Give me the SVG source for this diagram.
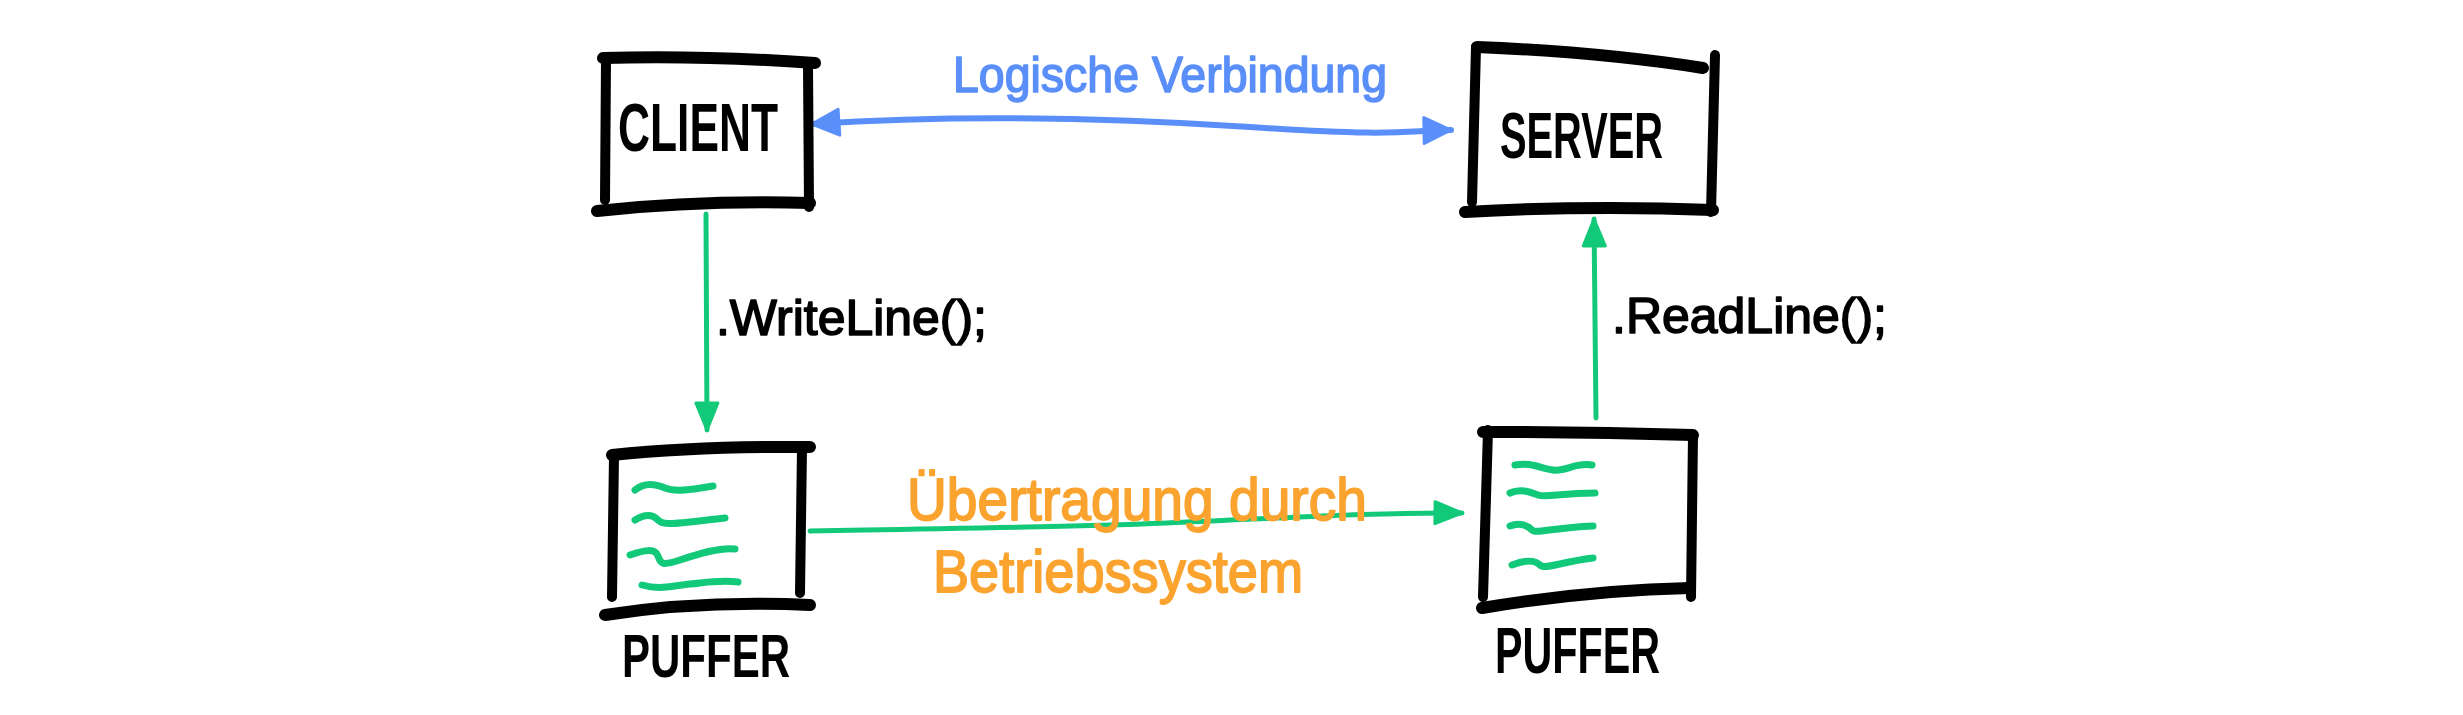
<svg xmlns="http://www.w3.org/2000/svg" width="2463" height="715" viewBox="0 0 2463 715">
<style>
.edge{fill:none;stroke:#000;stroke-linecap:round;stroke-linejoin:round}
.h{stroke-width:12}
.v{stroke-width:10}
.sq{fill:none;stroke:#12c979;stroke-width:7;stroke-linecap:round;stroke-linejoin:round}
.g{fill:none;stroke:#12c979;stroke-width:5;stroke-linecap:round}
.b{fill:none;stroke:#5a8ffa;stroke-width:6;stroke-linecap:round}
.lbl{font-family:"Liberation Sans",Arial,sans-serif;fill:#000;stroke:#000;stroke-width:1.6;stroke-linejoin:round}
.box{font-family:"Liberation Sans",Arial,sans-serif;font-weight:bold;fill:#000}
.blue{font-family:"Liberation Sans",Arial,sans-serif;fill:#5a8ffa;stroke:#5a8ffa;stroke-width:1.6;stroke-linejoin:round}
.orange{font-family:"Liberation Sans",Arial,sans-serif;fill:#fba32f;stroke:#fba32f;stroke-width:1.8;stroke-linejoin:round}
</style>
<defs>
<marker id="ahG" viewBox="0 0 30 26" refX="29" refY="13" markerWidth="30" markerHeight="26" markerUnits="userSpaceOnUse" orient="auto">
<path d="M2,2 L29,13 L2,24 Z" fill="#12c979" stroke="#12c979" stroke-width="3" stroke-linejoin="round"/>
</marker>
<marker id="ahB" viewBox="0 0 30 30" refX="29" refY="15" markerWidth="30" markerHeight="30" markerUnits="userSpaceOnUse" orient="auto-start-reverse">
<path d="M2,2 L29,15 L2,28 Z" fill="#5a8ffa" stroke="#5a8ffa" stroke-width="3" stroke-linejoin="round"/>
</marker>
</defs>
<rect width="2463" height="715" fill="#fff"/>

<g id="connectors">
<path class="b" d="M812,124 C950,115 1100,117 1250,127 S1400,131 1451,130" marker-start="url(#ahB)" marker-end="url(#ahB)"/>
<path class="g" d="M706,214 L707,430" marker-end="url(#ahG)"/>
<path class="g" d="M1596,418 L1594,219" marker-end="url(#ahG)"/>
<path class="g" d="M810,531 C950,528 1050,528 1167,523 S1380,512 1462,513" marker-end="url(#ahG)"/>
<text class="blue" x="953" y="92" font-size="50" textLength="434" lengthAdjust="spacingAndGlyphs">Logische Verbindung</text>
<text class="lbl" x="716" y="335" font-size="50" textLength="271" lengthAdjust="spacingAndGlyphs">.WriteLine();</text>
<text class="lbl" x="1612" y="333" font-size="50" textLength="275" lengthAdjust="spacingAndGlyphs">.ReadLine();</text>
<text class="orange" x="907" y="520" font-size="60" textLength="460" lengthAdjust="spacingAndGlyphs">Übertragung durch</text>
<text class="orange" x="933" y="592" font-size="60" textLength="370" lengthAdjust="spacingAndGlyphs">Betriebssystem</text>
</g>

<g id="client">
<path class="edge h" d="M603,58 Q700,55 815,63"/>
<path class="edge v" d="M606,60 L605,200"/>
<path class="edge v" d="M808,66 L809,207"/>
<path class="edge h" d="M597,211 Q700,200 810,203"/>
<text class="box" x="618" y="151" font-size="68" textLength="160" lengthAdjust="spacingAndGlyphs">CLIENT</text>
</g>

<g id="server">
<path class="edge h" d="M1477,47 Q1600,52 1703,68"/>
<path class="edge v" d="M1476,47 L1472,202"/>
<path class="edge v" d="M1715,55 L1711,212"/>
<path class="edge h" d="M1465,212 Q1590,205 1713,210"/>
<text class="box" x="1500" y="158" font-size="64" textLength="163" lengthAdjust="spacingAndGlyphs">SERVER</text>
</g>

<g id="puffer-client">
<path class="edge h" d="M612,455 Q700,446 810,447"/>
<path class="edge v" d="M614,456 L612,597"/>
<path class="edge v" d="M802,448 L800,593"/>
<path class="edge h" d="M605,615 Q700,600 810,605"/>
<path class="sq" d="M635,490 C645,482 655,484 665,488 S690,490 713,486"/>
<path class="sq" d="M635,520 C645,514 652,514 658,520 S672,524 725,518"/>
<path class="sq" d="M630,555 C645,550 655,548 658,556 S662,566 680,560 S720,547 735,549"/>
<path class="sq" d="M642,585 C660,590 670,586 690,584 S720,580 738,582"/>
<text class="box" x="622" y="677" font-size="62" textLength="168" lengthAdjust="spacingAndGlyphs">PUFFER</text>
</g>

<g id="puffer-server">
<path class="edge h" d="M1483,432 Q1590,432 1693,435"/>
<path class="edge v" d="M1488,430 L1483,597"/>
<path class="edge v" d="M1693,435 L1691,597"/>
<path class="edge h" d="M1482,608 Q1590,590 1690,588"/>
<path class="sq" d="M1515,465 C1530,462 1540,468 1553,470 S1575,462 1592,465"/>
<path class="sq" d="M1510,493 C1520,488 1530,492 1538,495 S1560,493 1595,493"/>
<path class="sq" d="M1510,526 C1520,522 1528,526 1532,530 S1550,528 1593,526"/>
<path class="sq" d="M1512,565 C1525,560 1535,560 1540,565 S1560,562 1593,558"/>
<text class="box" x="1495" y="673" font-size="64" textLength="165" lengthAdjust="spacingAndGlyphs">PUFFER</text>
</g>
</svg>
